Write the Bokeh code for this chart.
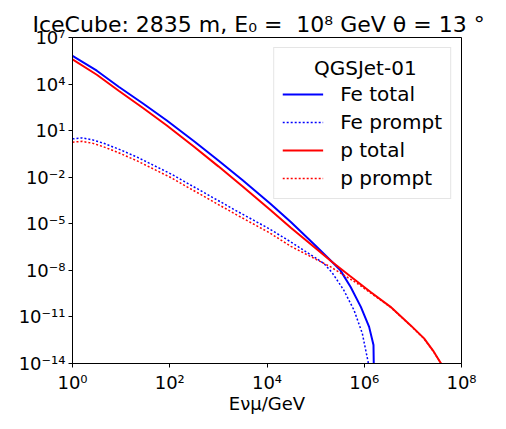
from bokeh.plotting import figure
from bokeh.models import (Range1d, FixedTicker, CustomJSTickFormatter, Legend,
                          LegendItem)
from bokeh.embed import file_html
from bokeh.resources import INLINE

# values, as log10(E/GeV) and log10(flux)
fe_total_loge = [0.0, 0.5, 0.95, 1.45, 1.94, 2.5, 3.0, 3.5, 4.07, 4.49, 5.0,
                 5.34, 5.51, 5.72, 5.93, 6.10, 6.19, 6.205]
fe_total_logf = [5.82, 4.86, 3.83, 2.75, 1.65, 0.32, -0.92, -2.2, -3.71, -4.89,
                 -6.42, -7.46, -8.0, -9.07, -10.35, -11.64, -12.81, -16.0]

fe_prompt_loge = [0.0, 0.2, 0.42, 0.64, 0.99, 1.33, 2.02, 2.70, 3.39, 4.04,
                  4.49, 5.0, 5.17, 5.34, 5.58, 5.79, 5.96, 6.03, 6.08, 6.11]
fe_prompt_logf = [0.47, 0.53, 0.40, 0.19, -0.24, -0.71, -1.78, -2.98, -4.2,
                  -5.31, -6.17, -7.2, -7.56, -8.15, -9.28, -10.57, -12.06,
                  -13.14, -13.9, -16.0]

p_total_loge = [0.0, 0.5, 0.95, 1.45, 1.94, 2.5, 3.0, 3.5, 4.07, 4.49, 5.0,
                5.34, 5.7, 6.13, 6.54, 6.95, 7.23, 7.43, 7.57, 7.65]
p_total_logf = [5.59, 4.60, 3.57, 2.46, 1.33, -0.04, -1.30, -2.6, -4.11, -5.25,
                -6.58, -7.46, -8.35, -9.39, -10.35, -11.53, -12.38, -13.24,
                -13.95, -14.5]

p_prompt_loge = [0.0, 0.2, 0.42, 0.64, 0.99, 1.33, 2.02, 2.70, 3.39, 4.04,
                 4.49, 5.31, 5.86, 6.54, 6.95, 7.23, 7.43, 7.57, 7.65]
p_prompt_logf = [0.26, 0.31, 0.18, -0.04, -0.48, -0.95, -2.02, -3.23, -4.45,
                 -5.56, -6.45, -7.78, -8.85, -10.37, -11.55, -12.40, -13.26,
                 -13.97, -14.5]

x_ticks = [1e0, 1e2, 1e4, 1e6, 1e8]
y_ticks = [1e-14, 1e-11, 1e-8, 1e-5, 1e-2, 1e1, 1e4, 1e7]

series_names = ["Fe total", "Fe prompt", "p total", "p prompt"]
legend_title = "QGSJet-01"


def pow10(vals):
    return [10.0 ** v for v in vals]


FONT = "DejaVu Sans"
NB = "\u00a0"

title_text = ("IceCube: 2835 m, E\u2080 =" + NB + " 10\u2078 GeV \u03b8 = 13"
              + NB + "\u00b0")

p = figure(frame_width=389, frame_height=326,
           x_axis_type="log", y_axis_type="log",
           x_range=Range1d(1, 1e8), y_range=Range1d(1e-14, 1e7),
           title=title_text,
           toolbar_location=None, output_backend="svg",
           min_border_left=72, min_border_right=44, min_border_top=37,
           min_border_bottom=65)
p.title.align = "left"
p.title.offset = -40
p.title.text_font = FONT
p.title.text_font_size = "22px"
p.title.text_font_style = "normal"
p.title.text_color = "black"
p.title.standoff = 2

p.grid.visible = False
p.outline_line_color = "black"
p.outline_line_alpha = 1.0

sup = CustomJSTickFormatter(code="""
const s = {"0":"\u2070","1":"\u00b9","2":"\u00b2","3":"\u00b3","4":"\u2074",
           "5":"\u2075","6":"\u2076","7":"\u2077","8":"\u2078","9":"\u2079",
           "-":"\u207b"};
const e = Math.round(Math.log10(tick));
return "10" + String(e).split("").map(c => s[c]).join("");
""")

p.xaxis.ticker = FixedTicker(ticks=x_ticks, minor_ticks=[])
p.yaxis.ticker = FixedTicker(ticks=y_ticks, minor_ticks=[])
for ax in (p.xaxis[0], p.yaxis[0]):
    ax.formatter = sup
    ax.major_label_text_font = FONT
    ax.major_label_text_font_size = "18px"
    ax.major_label_text_color = "black"
    ax.axis_line_color = "black"
    ax.major_tick_line_color = "black"
    ax.major_tick_out = 4
    ax.major_tick_in = 0
    ax.minor_tick_line_color = None
p.xaxis.major_label_standoff = 4
p.yaxis.major_label_standoff = 3

p.xaxis.axis_label = "E\u03bd\u03bc/GeV"
p.xaxis.axis_label_text_font = FONT
p.xaxis.axis_label_text_font_size = "18px"
p.xaxis.axis_label_text_font_style = "normal"
p.xaxis.axis_label_text_color = "black"
p.xaxis.axis_label_standoff = -3

r_fe = p.line(pow10(fe_total_loge), pow10(fe_total_logf), line_color="#0000ff",
              line_width=2)
r_fep = p.line(pow10(fe_prompt_loge), pow10(fe_prompt_logf),
               line_color="#0000ff", line_width=1.5, line_dash="2 2")
r_p = p.line(pow10(p_total_loge), pow10(p_total_logf), line_color="#ff0000",
             line_width=2)
r_pp = p.line(pow10(p_prompt_loge), pow10(p_prompt_logf), line_color="#ff0000",
              line_width=1.5, line_dash="2 2")

legend = Legend(
    items=[LegendItem(label=n, renderers=[r])
           for n, r in zip(series_names, [r_fe, r_fep, r_p, r_pp])],
    location="top_right", margin=10,
    title=NB * 5 + legend_title, title_text_font=FONT,
    title_text_font_size="20px", title_text_font_style="normal",
    title_text_color="black", title_standoff=2,
    padding=8, spacing=4,
    glyph_width=41, glyph_height=24, label_height=24, label_standoff=17,
    label_text_font=FONT, label_text_font_size="20px",
    label_text_color="black",
    border_line_color="#cccccc", border_line_width=1,
    background_fill_alpha=0.8)
p.add_layout(legend)

open("out.html", "w").write(file_html(p, INLINE))
